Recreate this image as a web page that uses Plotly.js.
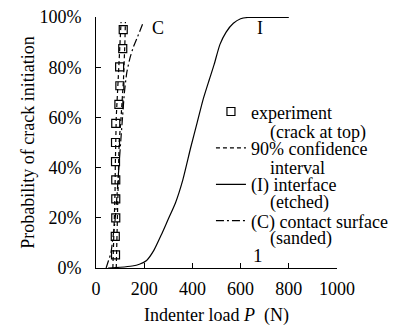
<!DOCTYPE html>
<html>
<head>
<meta charset="utf-8">
<script src="https://cdn.plot.ly/plotly-3.0.1.min.js"></script>
<style>html,body{margin:0;padding:0;background:#fff;}#chart{width:394px;height:326px;}</style>
</head>
<body>
<div id="chart"></div>
<script>
// Experiment (crack at top): load P (N) vs probability (%)
const expLoad = [81, 80, 82, 82, 82, 81, 81, 82, 95, 99, 98, 111, 113];
const expProb = [5.2, 12.6, 20.0, 27.5, 35.1, 42.4, 50.0, 57.6, 65.2, 72.6, 80.1, 87.4, 95.0];

// 90% confidence interval bounds
const ciLowLoad = [70, 74, 77, 79, 80, 81, 84, 92, 100, 104];
const ciLowProb = [0, 10, 20, 30, 40, 50, 60, 75, 90, 98];
const ciHighLoad = [84, 86, 88, 90, 92, 96, 104, 114, 120, 122];
const ciHighProb = [0, 10, 20, 30, 40, 50, 60, 75, 90, 98];

// (I) interface (etched)
const ifLoad = [50, 100, 150, 180, 210, 240, 270, 300, 330, 360, 393, 420, 444, 470, 490, 514, 540, 570, 600, 630, 700, 800];
const ifProb = [0, 0.3, 0.8, 1.5, 3, 7, 13, 19.5, 26, 35, 48, 58, 67, 75, 81, 89, 94, 97.5, 99.3, 99.8, 99.8, 99.8];

// (C) contact surface (sanded)
const csLoad = [42, 52, 62, 70, 78, 85, 92, 100, 110, 118, 128, 142, 155, 172, 195];
const csProb = [0, 3, 6, 12, 18, 26, 36, 47, 60, 70, 78, 84, 88, 92, 97.6];

const xTicks = [0, 200, 400, 600, 800, 1000];
const xTickText = ['0', '200', '400', '600', '800', '1000'];
const yTicks = [0, 20, 40, 60, 80, 100];
const yTickText = ['0%', '20%', '40%', '60%', '80%', '100%'];

const FONT = 'Liberation Serif';

const traces = [
  {x: expLoad, y: expProb, type: 'scatter', mode: 'markers', name: 'experiment',
   legendgroup: 'a',
   marker: {symbol: 'square-open', size: 8, color: '#000', line: {width: 1.2, color: '#000'}}},
  {x: ciLowLoad, y: ciLowProb, type: 'scatter', mode: 'lines', name: '90% confidence',
   legendgroup: 'b',
   line: {color: '#000', width: 1.2, dash: '4px,3px'}},
  {x: ciHighLoad, y: ciHighProb, type: 'scatter', mode: 'lines', name: '90% confidence upper',
   legendgroup: 'b', showlegend: false,
   line: {color: '#000', width: 1.2, dash: '4px,3px'}},
  {x: ifLoad, y: ifProb, type: 'scatter', mode: 'lines', name: '(I) interface',
   legendgroup: 'c', line: {color: '#000', width: 1.2, shape: 'spline', smoothing: 0.6}},
  {x: csLoad, y: csProb, type: 'scatter', mode: 'lines', name: '(C) contact surface',
   legendgroup: 'd', line: {color: '#000', width: 1.2, dash: '8px,3px,2px,3px', shape: 'spline', smoothing: 0.6}}
];

const sub = (t, yp) => ({text: t, xref: 'paper', yref: 'paper', x: 0.714, y: yp,
  xanchor: 'left', yanchor: 'middle', showarrow: false, font: {family: FONT, size: 18, color: '#000'}});

const layout = {
  width: 394, height: 326,
  margin: {l: 96, r: 57, t: 17, b: 58, autoexpand: false},
  paper_bgcolor: '#fff', plot_bgcolor: '#fff',
  font: {family: FONT, size: 18, color: '#000'},
  showlegend: true,
  legend: {x: 0.477, y: 0.696, xanchor: 'left', yanchor: 'top', bgcolor: 'rgba(0,0,0,0)',
           font: {family: FONT, size: 18, color: '#000'}, valign: 'top', tracegroupgap: 10,
           traceorder: 'grouped'},
  xaxis: {range: [0, 1000], tickmode: 'array', tickvals: xTicks, ticktext: xTickText, ticks: 'inside', ticklen: 5, tickcolor: '#000',
          showline: true, linecolor: '#000', linewidth: 1, showgrid: false, zeroline: false,
          tickfont: {family: FONT, size: 18, color: '#000'}, ticklabelstandoff: 4,
          title: {text: 'Indenter load <i>P</i>  (N)', font: {family: FONT, size: 18, color: '#000'}, standoff: 15}},
  yaxis: {range: [0, 100], tickmode: 'array', tickvals: yTicks, ticktext: yTickText, ticks: 'inside', ticklen: 5, tickcolor: '#000',
          showline: true, linecolor: '#000', linewidth: 1, showgrid: false, zeroline: false,
          tickfont: {family: FONT, size: 18, color: '#000'}, ticklabelstandoff: 10,
          title: {text: 'Probability of crack initiation', font: {family: FONT, size: 18, color: '#000'}, standoff: 0}},
  annotations: [
    sub('(crack at top)', 0.541),
    sub('interval', 0.400),
    sub('(etched)', 0.259),
    sub('(sanded)', 0.119),
    {text: 'C', x: 257, y: 95.5, xref: 'x', yref: 'y', showarrow: false, font: {family: FONT, size: 18, color: '#000'}},
    {text: 'I', x: 680, y: 95.5, xref: 'x', yref: 'y', showarrow: false, font: {family: FONT, size: 18, color: '#000'}},
    {text: '1', x: 672, y: 4.8, xref: 'x', yref: 'y', showarrow: false, font: {family: FONT, size: 19, color: '#000'}}
  ]
};

Plotly.newPlot('chart', traces, layout, {displayModeBar: false, staticPlot: true});
</script>
</body>
</html>
